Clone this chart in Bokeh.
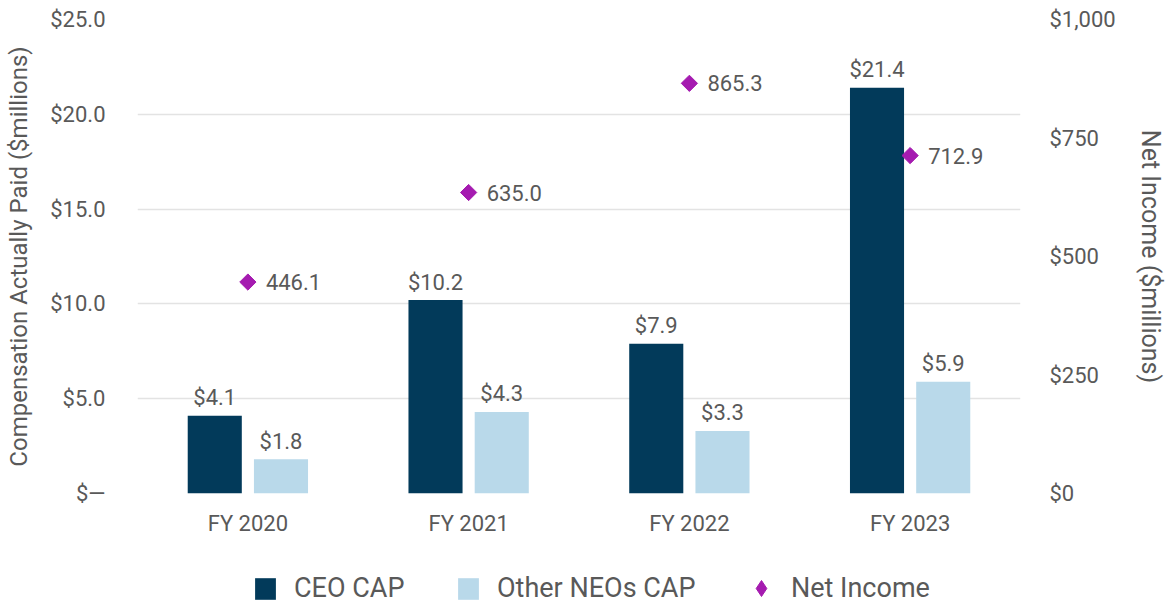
from bokeh.plotting import figure
from bokeh.layouts import column
from bokeh.models import (ColumnDataSource, FactorRange, Range1d, LinearAxis,
                          FixedTicker, Legend, LegendItem)
from bokeh.transform import dodge
from bokeh.core.properties import value
from bokeh.embed import file_html
from bokeh.resources import INLINE

years = ["FY 2020", "FY 2021", "FY 2022", "FY 2023"]
ceo_cap = [4.1, 10.2, 7.9, 21.4]
neo_cap = [1.8, 4.3, 3.3, 5.9]
net_income = [446.1, 635.0, 865.3, 712.9]

left_ticks = [0, 5, 10, 15, 20, 25]
left_tick_labels = ["$\u2014", "$5.0", "$10.0", "$15.0", "$20.0", "$25.0"]
right_ticks = [0, 250, 500, 750, 1000]
right_tick_labels = ["$0", "$250", "$500", "$750", "$1,000"]

CEO_COLOR = "#023a5a"
NEO_COLOR = "#b9d9ea"
NI_COLOR = "#a51bb0"
TEXT = "#595959"
FONT = "Roboto"

src = ColumnDataSource(dict(
    year=years, ceo=ceo_cap, neo=neo_cap, ni=net_income,
    ceo_lbl=[f"${v:.1f}" for v in ceo_cap],
    neo_lbl=[f"${v:.1f}" for v in neo_cap],
    ni_lbl=[f"{v:.1f}" for v in net_income],
))

p = figure(width=1167, height=545, x_range=FactorRange(factors=years),
           y_range=Range1d(0, 25), output_backend="svg", toolbar_location=None,
           min_border_left=137, min_border_right=144, min_border_top=19,
           min_border_bottom=52)
p.extra_y_ranges = {"ni": Range1d(0, 1000)}
p.outline_line_color = None
p.background_fill_color = "white"
p.border_fill_color = "white"

p.vbar(x=dodge("year", -0.15, range=p.x_range), top="ceo", width=0.245,
       source=src, fill_color=CEO_COLOR, line_color=None)
p.vbar(x=dodge("year", 0.15, range=p.x_range), top="neo", width=0.245,
       source=src, fill_color=NEO_COLOR, line_color=None)
p.scatter(x="year", y="ni", y_range_name="ni", marker="square",
          angle=0.785398, size=11.5, source=src,
          fill_color=NI_COLOR, line_color=NI_COLOR)

common = dict(text_font=value(FONT), text_font_size=value("22px"), text_color=TEXT, source=src)
p.text(x=dodge("year", -0.15, range=p.x_range), y="ceo", text="ceo_lbl",
       text_align="center", text_baseline="alphabetic", y_offset=-18, **common)
p.text(x=dodge("year", 0.15, range=p.x_range), y="neo", text="neo_lbl",
       text_align="center", text_baseline="alphabetic", y_offset=-18, **common)
p.text(x="year", y="ni", y_range_name="ni", text="ni_lbl",
       text_align="left", text_baseline="middle", x_offset=18, **common)


def style_axis(a):
    a.axis_line_color = None
    a.major_tick_line_color = None
    a.minor_tick_line_color = None
    a.major_tick_out = 0
    a.major_tick_in = 0
    a.minor_tick_out = 0
    a.minor_tick_in = 0
    a.major_label_text_font = FONT
    a.major_label_text_font_size = "22px"
    a.major_label_text_color = TEXT
    a.axis_label_text_font = FONT
    a.axis_label_text_font_style = "normal"
    a.axis_label_text_color = TEXT


xa = p.xaxis[0]
style_axis(xa)
xa.major_label_standoff = 17

ya = p.yaxis[0]
style_axis(ya)
ya.ticker = FixedTicker(ticks=left_ticks)
ya.major_label_overrides = dict(zip(left_ticks, left_tick_labels))
ya.major_label_standoff = 32
ya.axis_label = "Compensation Actually Paid ($millions)"
ya.axis_label_text_font_size = "24px"
ya.axis_label_standoff = 14

ax = LinearAxis(y_range_name="ni", ticker=FixedTicker(ticks=right_ticks),
                major_label_overrides=dict(zip(right_ticks, right_tick_labels)),
                axis_label="Net Income ($millions)")
style_axis(ax)
ax.major_label_standoff = 29
ax.axis_label_text_font_size = "25px"
ax.axis_label_standoff = 17
p.add_layout(ax, "right")

p.xgrid.grid_line_color = None
p.ygrid.grid_line_color = "#e3e3e3"
p.ygrid.grid_line_width = 1.5

# legend strip: a second figure (frame aligned with the chart's frame)
# whose glyphs fall outside its view, so only the legends show
lg = figure(width=1167, height=59, x_range=FactorRange(factors=years),
            y_range=Range1d(2000, 3000), output_backend="svg",
            toolbar_location=None, x_axis_location=None, y_axis_location=None,
            min_border_left=0, min_border_right=0, min_border_top=0,
            min_border_bottom=0)
lg.grid.visible = False
lg.outline_line_color = None
lg.background_fill_color = "white"
lg.border_fill_color = "white"
l_ceo = lg.vbar(x="year", top="ceo", width=0.001, source=src,
                fill_color=CEO_COLOR, line_color=None)
l_neo = lg.vbar(x="year", top="neo", width=0.001, source=src,
                fill_color=NEO_COLOR, line_color=None)
l_ni = lg.scatter(x="year", y="ni", marker="diamond", size=16, source=src,
                  fill_color=NI_COLOR, line_color=NI_COLOR)

leg_style = dict(orientation="horizontal", glyph_width=26, glyph_height=27,
                 label_standoff=16, padding=0, margin=0,
                 border_line_color=None, background_fill_alpha=0,
                 label_text_font=FONT, label_text_font_size="27px",
                 label_text_color=TEXT)
lg.add_layout(Legend(items=[LegendItem(label="CEO CAP", renderers=[l_ceo])],
                     location=(115, 0), **leg_style))
lg.add_layout(Legend(items=[LegendItem(label="Other NEOs CAP", renderers=[l_neo])],
                     location=(318, 0), **leg_style))
ni_style = dict(leg_style, glyph_width=40, glyph_height=40, label_standoff=10)
lg.add_layout(Legend(items=[LegendItem(label="Net Income", renderers=[l_ni])],
                     location=(604, -4), **ni_style))

layout = column(p, lg, spacing=0)
open("out.html", "w").write(file_html(layout, INLINE))
